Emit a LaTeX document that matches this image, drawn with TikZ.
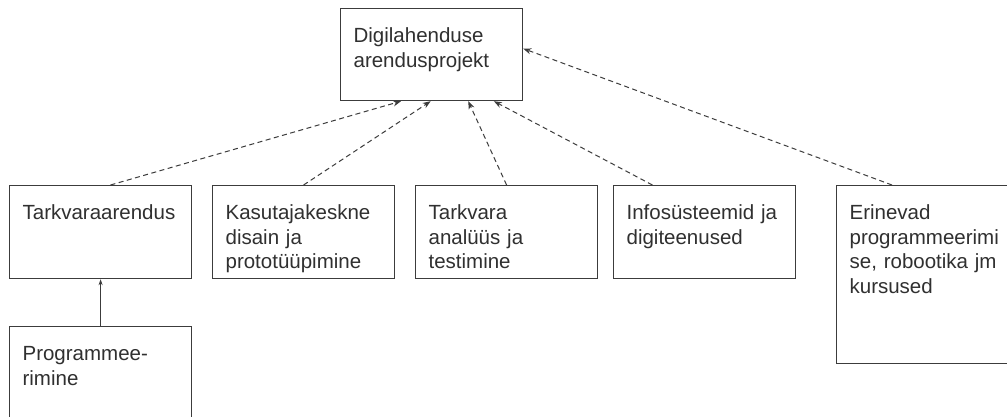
\documentclass[tikz,border=0pt]{standalone}
\usepackage{fontspec}
\setmainfont{Liberation Sans}
\usetikzlibrary{calc,arrows.meta}
\definecolor{boxline}{HTML}{3C3C3C}
\definecolor{boxtext}{HTML}{303030}
\tikzset{
	box/.style={draw=boxline, line width=1.2pt, rectangle, anchor=north west, align=left,
		inner xsep=13pt, inner ysep=0pt, text height=34pt, text=boxtext,
		font=\fontsize{20.5}{24.5}\selectfont},
	dep/.style={draw=boxline, line width=1pt, dash pattern=on 5pt off 3.5pt,
		-{Stealth[length=8pt,width=6pt]}},
	sub/.style={draw=boxline, line width=1pt, -{Stealth[length=6pt,width=4pt]}}
}

\begin{document}
\begin{tikzpicture}[x=1pt, y=-1pt]
		%%%%% START %%%%%
		
		\useasboundingbox (0, 0) rectangle (1007, 416);
		\clip (0, 0) rectangle (1007, 416);
		\fill[white] (0, 0) rectangle (1007, 416);
		
		\node[box, text width=156pt, text depth=58pt] (dig) at (340, 8) {Digilahenduse\\arendusprojekt};
		
		\node[box, text width=156pt, text depth=59pt] (tarkvara) at (9, 185) {Tarkvaraarendus};
		\node[box, text width=156pt, text depth=59pt] (kasutaja) at (212, 185) {Kasutajakeskne\\disain ja\\prototüüpimine};
		\node[box, text width=156pt, text depth=59pt] (analyys) at (415, 185) {Tarkvara\\analüüs ja\\testimine};
		\node[box, text width=156pt, text depth=59pt] (info) at (613, 185) {Infosüsteemid ja\\digiteenused};
		\node[box, text width=156pt, text depth=144pt] (erinevad) at (836, 185) {Erinevad\\programmeerimi\\se, robootika jm\\kursused};
		
		\node[box, text width=156pt, text depth=66pt] (prog) at (9, 326) {Programmee-\\rimine};
		
		\draw[dep] ($(tarkvara.north west)!.554!(tarkvara.north east)$) -- ($(dig.south west)!.333!(dig.south east)$);
		\draw[dep] (kasutaja.north) -- ($(dig.south west)!.495!(dig.south east)$);
		\draw[dep] (analyys.north) -- ($(dig.south west)!.70!(dig.south east)$);
		\draw[dep] ($(info.north west)!.215!(info.north east)$) -- ($(dig.south west)!.84!(dig.south east)$);
		\draw[dep] ([xshift=56pt]erinevad.north west) -- ($(dig.north east)!.435!(dig.south east)$);
		
		\draw[sub] (prog.north) -- (tarkvara.south);
		
		%%%%% END %%%%%
	\end{tikzpicture}
\end{document}
